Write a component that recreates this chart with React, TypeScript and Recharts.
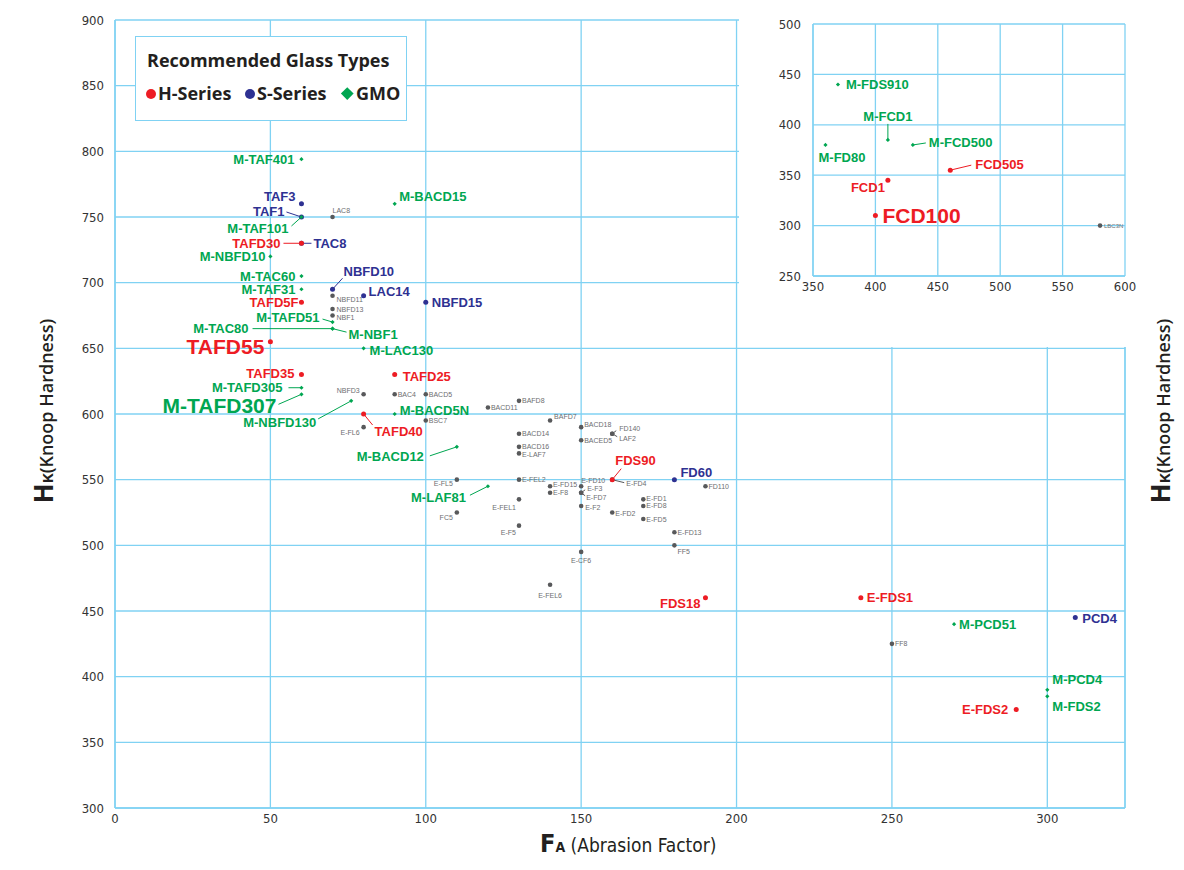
import React from 'react'
import { ScatterChart, Scatter, XAxis, YAxis, CartesianGrid, ReferenceLine } from 'recharts'

const RED = '#ed1c24'
const BLUE = '#2e3192'
const GREEN = '#00a651'
const GRAY = '#58595b'
const LABEL_GRAY = '#6d6e71'
const GRID = '#80d2f3'
const SANS = '"Liberation Sans", Arial, sans-serif'
const NARROW = '"Liberation Sans Narrow", "DejaVu Sans Condensed", "Liberation Sans", sans-serif'
const LEGEND_FONT = '"Open Sans", "Noto Sans", sans-serif'

// ticks
const xTicks = [0, 50, 100, 150, 200, 250, 300]
const yTicks = [300, 350, 400, 450, 500, 550, 600, 650, 700, 750, 800, 850, 900]
const insetXTicks = [350, 400, 450, 500, 550, 600]
const insetYTicks = [250, 300, 350, 400, 450, 500]

// H-Series (red)
const hNames = ['TAFD30', 'TAFD5F', 'TAFD55', 'TAFD35', 'TAFD25', 'TAFD40', 'FDS90', 'FDS18', 'E-FDS1', 'E-FDS2']
const hFA = [60, 60, 50, 60, 90, 80, 160, 190, 240, 290]
const hHK = [730, 685, 655, 630, 630, 600, 550, 460, 460, 375]
const hNamesInset = ['FCD505', 'FCD1', 'FCD100']
const hFAInset = [460, 410, 400]
const hHKInset = [355, 345, 310]

// S-Series (blue)
const sNames = ['TAF3', 'TAF1', 'TAC8', 'NBFD10', 'LAC14', 'NBFD15', 'FD60', 'PCD4']
const sFA = [60, 60, 60, 70, 80, 100, 180, 309]
const sHK = [760, 750, 730, 695, 690, 685, 550, 445]

// GMO (green)
const gNames = ['M-TAF401', 'M-BACD15', 'M-TAF101', 'M-NBFD10', 'M-TAC60', 'M-TAF31', 'M-TAFD51', 'M-TAC80', 'M-NBF1',
  'M-LAC130', 'M-TAFD305', 'M-TAFD307', 'M-NBFD130', 'M-BACD5N', 'M-BACD12', 'M-LAF81', 'M-PCD51', 'M-PCD4', 'M-FDS2']
const gFA = [60, 90, 60, 50, 60, 60, 70, 70, 70, 80, 60, 60, 76, 90, 110, 120, 270, 300, 300]
const gHK = [794, 760, 750, 720, 705, 695, 670, 665, 665, 650, 620, 615, 610, 600, 575, 545, 440, 390, 385]
const gNamesInset = ['M-FDS910', 'M-FCD1', 'M-FD80', 'M-FCD500']
const gFAInset = [370, 410, 360, 430]
const gHKInset = [440, 385, 380, 380]

// other glass types (gray)
const oNames = ['LAC8', 'NBFD11', 'NBFD13', 'NBF1', 'NBFD3', 'BAC4', 'BACD5', 'BSC7', 'E-FL6', 'BACD11', 'BAFD8', 'BAFD7',
  'BACD14', 'BACD16', 'E-LAF7', 'E-FL5', 'E-FEL2', 'E-FD15', 'E-F8', 'E-FEL1', 'FC5', 'E-F5', 'BACD18', 'FD140', 'LAF2',
  'BACED5', 'E-FD4', 'E-FD10', 'E-F3', 'E-FD7', 'E-F2', 'E-FD2', 'E-FD1', 'E-FD8', 'E-FD5', 'FD110', 'E-FD13', 'FF5',
  'E-CF6', 'E-FEL6', 'FF8']
const oFA = [70, 70, 70, 70, 80, 90, 100, 100, 80, 120, 130, 140,
  130, 130, 130, 110, 130, 140, 140, 130, 110, 130, 150, 160, 160,
  150, 160, 150, 150, 150, 150, 160, 170, 170, 170, 190, 180, 180,
  150, 140, 250]
const oHK = [750, 690, 680, 675, 615, 615, 615, 595, 590, 605, 610, 595,
  585, 575, 570, 550, 550, 545, 540, 535, 525, 515, 590, 585, 585,
  580, 550, 545, 540, 540, 530, 525, 535, 530, 520, 545, 510, 500,
  495, 470, 425]
const oNamesInset = ['LBC3N']
const oFAInset = [580]
const oHKInset = [300]

type Pt = { name: string; fa: number; hk: number }
const zip = (names: string[], fa: number[], hk: number[]): Pt[] =>
  names.map((name, i) => ({ name, fa: fa[i], hk: hk[i] }))

// label placement, pixels from the point: dx, dy, anchor, font size, leader line
type Lab = { dx?: number; dy?: number; a?: 'start' | 'end' | 'middle'; fs?: number; lead?: number[] }
const LABELS: Record<string, Lab> = {
  'TAFD30': { dx: -21, a: 'end', lead: [-18, 0, 0, 0] },
  'TAFD5F': { dx: -3, dy: 0.5, a: 'end' },
  'TAFD55': { dx: -6, dy: 5, a: 'end', fs: 21 },
  'TAFD35': { dx: -7, dy: -1, a: 'end' },
  'TAFD25': { dx: 8, dy: 2 },
  'TAFD40': { dx: 11, dy: 17.5, lead: [0, 0, 9, 11] },
  'FDS90': { dx: 3, dy: -19, lead: [9, -11, 0, 0] },
  'FDS18': { dx: -5, dy: 6, a: 'end' },
  'E-FDS1': { dx: 6 },
  'E-FDS2': { dx: -8, a: 'end' },
  'FCD505': { dx: 25, dy: -6, lead: [0, 0, 21, -5] },
  'FCD1': { dx: -3, dy: 7.5, a: 'end' },
  'FCD100': { dx: 7, fs: 21 },
  'TAF3': { dx: -6, dy: -7, a: 'end' },
  'TAF1': { dx: -17, dy: -5.5, a: 'end', lead: [-15, -5, 0, 0] },
  'TAC8': { dx: 12, lead: [0, 0, 10, 0] },
  'NBFD10': { dx: 11, dy: -17.5, lead: [0, 0, 10, -11] },
  'LAC14': { dx: 5, dy: -4 },
  'NBFD15': { dx: 6 },
  'FD60': { dx: 6, dy: -7 },
  'PCD4': { dx: 7, dy: 1 },
  'M-TAF401': { dx: -7, a: 'end' },
  'M-BACD15': { dx: 4.5, dy: -7.5 },
  'M-TAF101': { dx: -13, dy: 11.5, a: 'end', lead: [-10, 9, 0, 0] },
  'M-NBFD10': { dx: -5, a: 'end' },
  'M-TAC60': { dx: -6, a: 'end' },
  'M-TAF31': { dx: -6, a: 'end' },
  'M-TAFD51': { dx: -13, dy: -5, a: 'end', lead: [-10, -3, 0, 0] },
  'M-TAC80': { dx: -84, a: 'end', lead: [-80, 0, 0, 0] },
  'M-NBF1': { dx: 16, dy: 6, lead: [0, 0, 14, 3.5] },
  'M-LAC130': { dx: 6, dy: 2.5 },
  'M-TAFD305': { dx: -19, dy: -0.5, a: 'end', lead: [-13, 0, 0, 0] },
  'M-TAFD307': { dx: -25, dy: 11, a: 'end', fs: 21, lead: [-23, 10, 0, 0] },
  'M-NBFD130': { dx: -35, dy: 22, a: 'end', lead: [-33, 18, 0, 0] },
  'M-BACD5N': { dx: 5, dy: -4 },
  'M-BACD12': { dx: -33, dy: 10, a: 'end', lead: [-27, 9, 0, 0] },
  'M-LAF81': { dx: -22, dy: 11.5, a: 'end', lead: [-18, 9, 0, 0] },
  'M-PCD51': { dx: 5 },
  'M-PCD4': { dx: 5, dy: -10 },
  'M-FDS2': { dx: 5, dy: 10 },
  'M-FDS910': { dx: 8 },
  'M-FCD1': { dx: 0, dy: -23, a: 'middle', lead: [0, 0, 0, -16] },
  'M-FD80': { dx: -7, dy: 13 },
  'M-FCD500': { dx: 16, dy: -2.5, lead: [0, 0, 13, -2] },
  'LAC8': { dx: 0, dy: -6.5 },
  'NBFD11': { dx: 4, dy: 4 },
  'NBFD13': { dx: 4, dy: 1 },
  'NBF1': { dx: 4, dy: 2 },
  'NBFD3': { dx: -4, dy: -4, a: 'end' },
  'E-FL6': { dx: -4, dy: 5, a: 'end' },
  'BAFD7': { dx: 4, dy: -4 },
  'BACD16': { dx: 3, dy: -0.5 },
  'E-LAF7': { dx: 3, dy: 0.8 },
  'E-FL5': { dx: -4, dy: 4, a: 'end' },
  'E-FD15': { dx: 3, dy: -1.5 },
  'E-FEL1': { dx: -3, dy: 8, a: 'end' },
  'FC5': { dx: -4, dy: 4.7, a: 'end' },
  'E-F5': { dx: -3, dy: 7, a: 'end' },
  'BACD18': { dx: 3, dy: -3 },
  'FD140': { dx: 7, dy: -5, lead: [0, 0, 4, -3] },
  'LAF2': { dx: 7, dy: 5, lead: [0, 0, 5, 3] },
  'E-FD4': { dx: 14, dy: 4, lead: [0, 0, 12, 3] },
  'E-FD10': { dx: 0, dy: -6 },
  'E-F3': { dx: 6, dy: -4.7, lead: [0, 0, 4, -3] },
  'E-FD7': { dx: 5, dy: 4.5, lead: [0, 0, 4, 3] },
  'E-F2': { dx: 4, dy: 1.5 },
  'E-FD2': { dx: 3, dy: 1 },
  'E-FD1': { dx: 3, dy: -1 },
  'FF5': { dx: 3, dy: 6 },
  'E-CF6': { dx: 0, dy: 9, a: 'middle' },
  'E-FEL6': { dx: 0, dy: 11, a: 'middle' },
  'LBC3N': { dx: 4, dy: 0.5, fs: 6 },
}

function pointShape(color: string, kind: 'dot' | 'diamond' | 'other') {
  return (props: any) => {
    const { cx, cy, payload } = props
    if (cx == null || cy == null) return <g />
    const other = kind === 'other'
    const base: Lab = other ? { dx: 3, dy: 0, a: 'start', fs: 7 } : { dx: 6, dy: 0, a: 'start', fs: 13 }
    const lab = { ...base, ...(LABELS[payload.name] || {}) }
    const ld = lab.lead
    const s = 2.1
    return (
      <g>
        {ld && (
          <line x1={cx + ld[0]} y1={cy + ld[1]} x2={cx + ld[2]} y2={cy + ld[3]} stroke={color} strokeWidth={1} />
        )}
        {kind === 'diamond' ? (
          <polygon points={`${cx},${cy - s} ${cx + s},${cy} ${cx},${cy + s} ${cx - s},${cy}`} fill={color} />
        ) : (
          <circle cx={cx} cy={cy} r={other ? 2.3 : 2.5} fill={color} />
        )}
        <text
          x={cx + (lab.dx || 0)}
          y={cy + (lab.dy || 0)}
          textAnchor={lab.a}
          dominantBaseline="central"
          fontSize={lab.fs}
          fontWeight={other ? 400 : 700}
          fontFamily={SANS}
          fill={other ? LABEL_GRAY : color}
        >
          {payload.name}
        </text>
      </g>
    )
  }
}

const redShape = pointShape(RED, 'dot')
const blueShape = pointShape(BLUE, 'dot')
const greenShape = pointShape(GREEN, 'diamond')
const grayShape = pointShape(GRAY, 'other')

const tickStyle = { fontSize: 13, fill: '#333', fontFamily: NARROW }

function YTitle({ x }: { x: number }) {
  return (
    <div
      style={{
        position: 'absolute', left: x, top: 411, transform: 'translate(-50%, -50%) rotate(-90deg)',
        whiteSpace: 'nowrap', fontFamily: LEGEND_FONT, color: '#231f20', lineHeight: 1,
      }}
    >
      <span style={{ fontSize: 26, fontWeight: 700 }}>H</span>
      <span style={{ fontSize: 15, fontWeight: 700 }}>K</span>
      <span style={{ fontSize: 18, fontWeight: 600 }}>(Knoop Hardness)</span>
    </div>
  )
}

export default function App() {
  return (
    <div style={{ position: 'absolute', left: 0, top: 0, width: 1184, height: 870, background: '#fff' }}>
      <ScatterChart width={1184} height={870} margin={{ top: 20, right: 59, bottom: 32, left: 55 }}>
        <CartesianGrid stroke={GRID} strokeWidth={1.3} />
        <XAxis type="number" dataKey="fa" domain={[0, 325]} ticks={xTicks} interval={0} height={30}
          tickLine={false} axisLine={{ stroke: GRID, strokeWidth: 1.5 }} tick={tickStyle} tickSize={4} tickMargin={2} />
        <YAxis type="number" dataKey="hk" domain={[300, 900]} ticks={yTicks} interval={0} width={60}
          tickLine={false} axisLine={{ stroke: GRID, strokeWidth: 1.5 }} tick={tickStyle} tickSize={6} tickMargin={5} />
        <ReferenceLine x={325} stroke={GRID} strokeWidth={1.3} />
        <Scatter data={zip(oNames, oFA, oHK)} shape={grayShape} isAnimationActive={false} />
        <Scatter data={zip(sNames, sFA, sHK)} shape={blueShape} isAnimationActive={false} />
        <Scatter data={zip(gNames, gFA, gHK)} shape={greenShape} isAnimationActive={false} />
        <Scatter data={zip(hNames, hFA, hHK)} shape={redShape} isAnimationActive={false} />
      </ScatterChart>

      {/* cut-out for the inset */}
      <div style={{ position: 'absolute', left: 739, top: 0, width: 445, height: 347, background: '#fff' }} />

      <div style={{ position: 'absolute', left: 750, top: 0 }}>
        <ScatterChart width={434} height={310} margin={{ top: 24, right: 59, bottom: 9, left: 23 }}>
          <CartesianGrid stroke={GRID} strokeWidth={1.3} />
          <XAxis type="number" dataKey="fa" domain={[350, 600]} ticks={insetXTicks} interval={0} height={25}
            tickLine={false} axisLine={{ stroke: GRID, strokeWidth: 1.3 }} tick={tickStyle} tickSize={4} tickMargin={2} />
          <YAxis type="number" dataKey="hk" domain={[250, 500]} ticks={insetYTicks} interval={0} width={40}
            tickLine={false} axisLine={{ stroke: GRID, strokeWidth: 1.3 }} tick={tickStyle} tickSize={6} tickMargin={6} />
          <Scatter data={zip(oNamesInset, oFAInset, oHKInset)} shape={grayShape} isAnimationActive={false} />
          <Scatter data={zip(gNamesInset, gFAInset, gHKInset)} shape={greenShape} isAnimationActive={false} />
          <Scatter data={zip(hNamesInset, hFAInset, hHKInset)} shape={redShape} isAnimationActive={false} />
        </ScatterChart>
      </div>

      {/* legend */}
      <div style={{
        position: 'absolute', left: 135, top: 36, width: 272, height: 85, boxSizing: 'border-box',
        border: `1.5px solid ${GRID}`, background: '#fff', fontFamily: LEGEND_FONT, color: '#231f20',
      }}>
        <div style={{ position: 'absolute', left: 11, top: 14, fontSize: 18, fontWeight: 700, whiteSpace: 'nowrap', lineHeight: 1 }}>
          Recommended Glass Types
        </div>
        <div style={{ position: 'absolute', left: 9.5, top: 51.5, width: 10.5, height: 10.5, borderRadius: '50%', background: RED }} />
        <div style={{ position: 'absolute', left: 22, top: 47, fontSize: 18, fontWeight: 700, lineHeight: 1 }}>H-Series</div>
        <div style={{ position: 'absolute', left: 108.5, top: 51.5, width: 10.5, height: 10.5, borderRadius: '50%', background: BLUE }} />
        <div style={{ position: 'absolute', left: 121, top: 47, fontSize: 18, fontWeight: 700, lineHeight: 1 }}>S-Series</div>
        <div style={{ position: 'absolute', left: 207, top: 52, width: 8.5, height: 8.5, transform: 'rotate(45deg)', background: GREEN }} />
        <div style={{ position: 'absolute', left: 220, top: 47, fontSize: 18, fontWeight: 700, lineHeight: 1 }}>GMO</div>
      </div>

      {/* axis titles */}
      <div style={{ position: 'absolute', left: 540, top: 831, whiteSpace: 'nowrap', color: '#231f20', lineHeight: 1 }}>
        <span style={{ fontSize: 25, fontWeight: 700, fontFamily: NARROW }}>F</span>
        <span style={{ fontSize: 14, fontWeight: 700, fontFamily: NARROW }}>A</span>
        <span style={{ fontSize: 19, fontWeight: 400, fontFamily: NARROW }}> (Abrasion Factor)</span>
      </div>
      <YTitle x={43} />
      <YTitle x={1160} />
    </div>
  )
}
